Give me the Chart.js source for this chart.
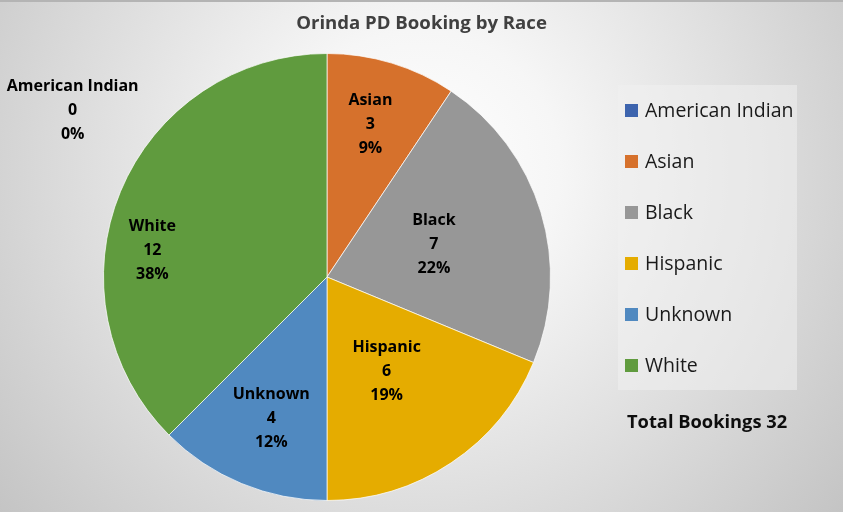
<!DOCTYPE html>
<html>
<head>
<meta charset="utf-8">
<script src="https://cdn.jsdelivr.net/npm/chart.js@4.4.0/dist/chart.umd.min.js"></script>
<style>
  html, body { margin: 0; padding: 0; background: #fff; }
  #wrap { width: 843px; height: 512px; }
</style>
</head>
<body>
<div id="wrap"><canvas id="myPieChart" width="843" height="512"></canvas></div>
<script>
// data
var categories = ['American Indian', 'Asian', 'Black', 'Hispanic', 'Unknown', 'White'];
var bookings = [0, 3, 7, 6, 4, 12];
var pctLabels = ['0%', '9%', '22%', '19%', '12%', '38%'];
var chartTitle = 'Orinda PD Booking by Race';
var totalText = 'Total Bookings 32';

var sliceColors = ['#3d64ae', '#d6712c', '#979797', '#e5ac00', '#5089c0', '#609b3e'];

// where each data label sits: fraction of radius, angle shift (deg) from slice middle
var labelRadius = [1.36, 0.71, 0.50, 0.50, 0.68, 0.79];
var labelShift = [-56.8, -1, 0, 1.5, -1, -14];

var fontFam = '"Open Sans", "Noto Sans", sans-serif';

// background, title, legend, total text and data labels
var decorPlugin = {
  id: 'decor',
  beforeDraw: function (chart) {
    var ctx = chart.ctx;
    var w = chart.width, h = chart.height;
    ctx.save();
    var g = ctx.createRadialGradient(420, 170, 0, 420, 170, 560);
    g.addColorStop(0, '#ffffff');
    g.addColorStop(0.25, '#f6f6f6');
    g.addColorStop(1, '#c2c2c2');
    ctx.fillStyle = g;
    ctx.fillRect(0, 0, w, h);
    ctx.fillStyle = '#b4b4b4';
    ctx.fillRect(0, 0, w, 2);
    ctx.restore();
  },
  afterDraw: function (chart) {
    var ctx = chart.ctx;
    var area = chart.chartArea;
    ctx.save();

    // title
    ctx.fillStyle = '#404040';
    ctx.font = 'bold 18.6px ' + fontFam;
    ctx.textAlign = 'center';
    ctx.textBaseline = 'middle';
    ctx.fillText(chartTitle, chart.width / 2, 24);

    // legend box
    var lx = area.right + 67, ly = area.top + 32;
    ctx.fillStyle = 'rgba(240,240,240,0.55)';
    ctx.fillRect(lx, ly, 179, 305);
    ctx.font = '19.5px ' + fontFam;
    ctx.textAlign = 'left';
    for (var i = 0; i < categories.length; i++) {
      var cy = ly + 25 + i * 51;
      ctx.fillStyle = sliceColors[i];
      ctx.fillRect(lx + 7, cy - 6, 13, 13);
      ctx.fillStyle = '#1a1a1a';
      ctx.fillText(categories[i], lx + 27, cy + 1);
    }

    // total text
    ctx.font = 'bold 18.3px ' + fontFam;
    ctx.fillStyle = '#0d0d0d';
    ctx.fillText(totalText, lx + 9, ly + 338);

    // data labels from arc elements
    var meta = chart.getDatasetMeta(0);
    ctx.font = 'bold 16px ' + fontFam;
    ctx.textAlign = 'center';
    ctx.fillStyle = '#000000';
    meta.data.forEach(function (arc, idx) {
      var p = arc.getProps(['x', 'y', 'startAngle', 'endAngle', 'outerRadius'], true);
      var mid = (p.startAngle + p.endAngle) / 2 + labelShift[idx] * Math.PI / 180;
      var r = p.outerRadius * labelRadius[idx];
      var tx = p.x + Math.cos(mid) * r;
      var ty = p.y + Math.sin(mid) * r;
      ctx.fillText(categories[idx], tx, ty - 24);
      ctx.fillText(String(bookings[idx]), tx, ty);
      ctx.fillText(pctLabels[idx], tx, ty + 24);
    });
    ctx.restore();
  }
};

var ctx = document.getElementById('myPieChart').getContext('2d');
var myChart = new Chart(ctx, {
  type: 'pie',
  data: {
    labels: categories,
    datasets: [{
      data: bookings,
      backgroundColor: sliceColors,
      borderColor: 'rgba(255,255,255,0.7)',
      borderWidth: 1
    }]
  },
  options: {
    responsive: false,
    animation: false,
    events: [],
    layout: {
      padding: { left: 103, right: 292, top: 53, bottom: 11 }
    },
    plugins: {
      legend: { display: false },
      title: { display: false },
      tooltip: { enabled: false }
    }
  },
  plugins: [decorPlugin]
});
</script>
</body>
</html>
